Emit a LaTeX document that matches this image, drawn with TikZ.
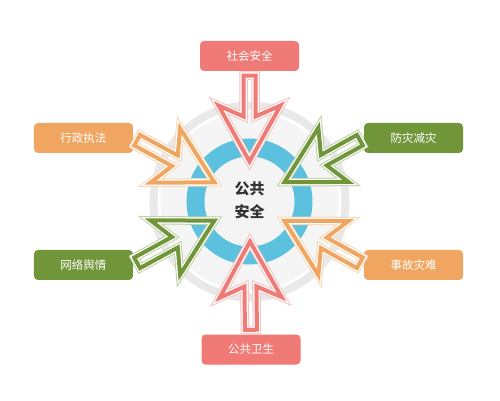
\documentclass[tikz,border=0pt]{standalone}
\usepackage{fontspec}
\usepackage{tikz}
\usetikzlibrary{calc}
\newfontfamily\cjk{Noto Sans CJK SC}
\definecolor{salmon}{RGB}{240,122,118}
\definecolor{apricot}{RGB}{240,166,96}
\definecolor{leafgreen}{RGB}{113,150,58}
\definecolor{skyring}{RGB}{91,193,222}
\newcommand\bigarrow[2]{%
  \foreach \lw/\cl in {8.5pt/#2!45,6.5pt/white,4pt/#2}
    \draw[line width=\lw,color=\cl,line join=miter]
      ($(#1)!4.5pt!(ctr)!6pt!-90:(ctr)$) -- ($(ctr)!85pt!(#1)!6pt!90:(#1)$)
      -- ($(ctr)!96pt!(#1)!31pt!90:(#1)$) -- ($(ctr)!40pt!(#1)$)
      -- ($(ctr)!96pt!(#1)!31pt!-90:(#1)$) -- ($(ctr)!85pt!(#1)!6pt!-90:(#1)$)
      -- ($(#1)!4.5pt!(ctr)!6pt!90:(ctr)$) -- cycle;
}

\begin{document}
\begin{tikzpicture}[x=1pt,y=1pt,
    box/.style={rounded corners=4pt,minimum width=99pt,minimum height=30pt,
      text=white,font=\cjk\fontsize{11.5}{13}\selectfont}]
  \useasboundingbox (-249.5,-199.5) rectangle (250.5,201.5);
  \fill[gray!17] (0,0) circle (100pt);
  \fill[white] (0,0) circle (92pt);
  \fill[gray!8] (0,0) circle (89pt);
  \fill[skyring] (0,0) circle (63pt);
  \fill[gray!9] (0,0) circle (45pt);
  \coordinate (ctr) at (0,0);
  \node[box,fill=salmon] (social) at (0,145.5) {社会安全};
  \node[box,fill=salmon] (health) at (1.5,-148) {公共卫生};
  \node[box,fill=apricot] (law) at (-166,63.5) {行政执法};
  \node[box,fill=leafgreen] (opinion) at (-166,-63.5) {网络舆情};
  \node[box,fill=leafgreen] (disaster) at (164,63.5) {防灾减灾};
  \node[box,fill=apricot] (accident) at (164,-63.5) {事故灾难};
  \bigarrow{social.south}{salmon}
  \bigarrow{health.north}{salmon}
  \bigarrow{law.east}{apricot}
  \bigarrow{opinion.east}{leafgreen}
  \bigarrow{disaster.west}{leafgreen}
  \bigarrow{accident.west}{apricot}
  \node[font=\cjk\bfseries\fontsize{15}{23}\selectfont,align=center,text=black!80] (core) at (0,1) {公共\\安全};
\end{tikzpicture}
\end{document}
